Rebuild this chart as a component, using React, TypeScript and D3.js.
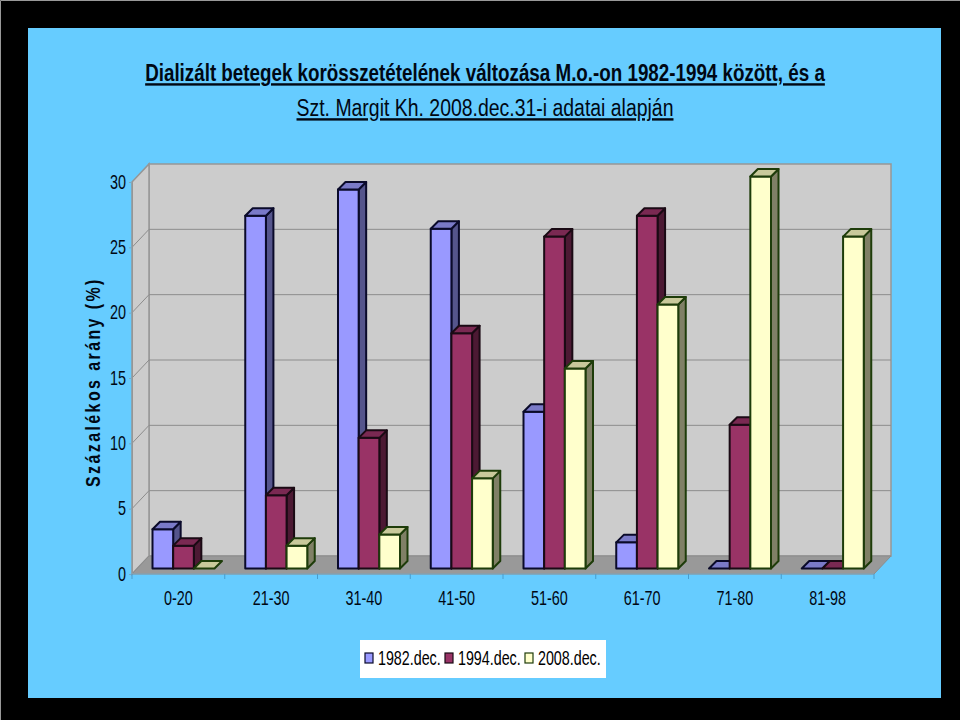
import React, { useRef, useEffect } from "react";
import * as d3 from "d3";

const titleLines = [
  "Dializált betegek korösszetételének változása M.o.-on 1982-1994 között, és a",
  "Szt. Margit Kh. 2008.dec.31-i adatai alapján",
];
const yTitle = "Százalékos arány (%)";
const categories = ["0-20", "21-30", "31-40", "41-50", "51-60", "61-70", "71-80", "81-98"];
const seriesNames = ["1982.dec.", "1994.dec.", "2008.dec."];
const values1982 = [3, 27, 29, 26, 12, 2, 0, 0];
const values1994 = [1.75, 5.6, 10, 18, 25.4, 27, 11, 0];
const values2008 = [0, 1.75, 2.6, 6.9, 15.3, 20.2, 30, 25.4];
const yTicks = [0, 5, 10, 15, 20, 25, 30];

const fronts = ["#9999FF", "#993366", "#FFFFCC"];
const tops = ["#7A7AC8", "#7A2952", "#C9C99B"];
const sides = ["#55558C", "#4C1933", "#808066"];
const strokes = ["#0A0A2A", "#1A0A14", "#1E3C0A"];

// the original uses a narrow face, not installed here, so text gets squeezed horizontally
const font = "'Liberation Sans', Arial, sans-serif";
const tickScale = 0.72;

const App: React.FC = () => {
  const ref = useRef<SVGSVGElement | null>(null);

  useEffect(() => {
    if (!ref.current) return;
    const svg = d3.select(ref.current);
    svg.selectAll("*").remove();

    // page frame
    svg.append("rect").attr("width", 960).attr("height", 720).attr("fill", "#000");
    svg.append("path").attr("d", "M0.5,720V0.5H960").attr("fill", "none").attr("stroke", "#999");
    svg.append("rect").attr("x", 28).attr("y", 28).attr("width", 913).attr("height", 670)
      .attr("fill", "#66CCFF");

    // title
    titleLines.forEach((line, i) => {
      svg.append("text")
        .attr("transform", `translate(485,${81 + i * 35}) scale(${i === 0 ? 0.783 : 0.81},1)`)
        .attr("text-anchor", "middle")
        .attr("font-family", font).attr("font-size", 24).attr("font-weight", i === 0 ? 700 : 400)
        .attr("text-decoration", "underline")
        .attr("fill", "#000814")
        .text(line);
    });

    // scales, front plane of the 3D box
    const x = d3.scaleBand<string>().domain(categories).range([132, 874]);
    const y = d3.scaleLinear().domain([0, 30]).range([574, 182]);
    const dx = 17, dy = -18; // box depth
    const barBase = y(0) - 5.5;

    const g = svg.append("g");

    // back wall, side wall, floor
    const backLeft = 132 + dx, backRight = 874 + dx;
    g.append("path")
      .attr("d", `M${backLeft},${y(30) + dy}H${backRight}V${y(0) + dy}H${backLeft}Z`)
      .attr("fill", "#CCCCCC").attr("stroke", "#969696").attr("stroke-width", 1.5);
    g.append("path")
      .attr("d", `M132,${y(30)}L${backLeft},${y(30) + dy}V${y(0) + dy}L132,${y(0)}Z`)
      .attr("fill", "#CCCCCC").attr("stroke", "#969696").attr("stroke-width", 1.5);
    g.append("path")
      .attr("d", `M132,${y(0)}L${backLeft},${y(0) + dy}H${backRight}L874,${y(0)}Z`)
      .attr("fill", "#999999").attr("stroke", "#8C8C8C");

    // gridlines
    g.selectAll("path.grid")
      .data(yTicks.slice(1, -1))
      .join("path")
      .attr("class", "grid")
      .attr("d", d => `M132,${y(d)}L${backLeft},${y(d) + dy}H${backRight}`)
      .attr("fill", "none").attr("stroke", "#8C8C8C").attr("stroke-width", 1);

    // axes
    const yAxis = svg.append("g")
      .attr("transform", "translate(132,0)")
      .call(d3.axisLeft(y).tickValues(yTicks).tickSize(3).tickPadding(3));
    const xAxis = svg.append("g")
      .attr("transform", `translate(0,${y(0)})`)
      .call(d3.axisBottom(x).tickSize(0).tickPadding(16.5));
    xAxis.selectAll(".tick line").remove();
    // category separators sit between the bands
    xAxis.selectAll("line.sep")
      .data(d3.range(categories.length + 1))
      .join("line")
      .attr("class", "sep")
      .attr("x1", i => 132 + i * x.step()).attr("x2", i => 132 + i * x.step())
      .attr("y1", 0).attr("y2", 5)
      .attr("stroke", "#4A9CCC");
    [yAxis, xAxis].forEach(a => {
      a.selectAll("text")
        .attr("font-family", font).attr("font-size", 20).attr("fill", "#000814");
    });
    yAxis.select(".domain").attr("stroke", "#969696");
    xAxis.select(".domain").attr("d", "M132,0H874").attr("stroke", "#7FA8C0");
    yAxis.selectAll(".tick line").attr("stroke", "#7FA8C0");
    yAxis.selectAll("text")
      .attr("x", 0).attr("dy", "0.3em")
      .attr("transform", `translate(-6,0) scale(${tickScale},1)`);
    xAxis.selectAll("text").attr("transform", `scale(${tickScale},1)`);

    // bars
    const inner = d3.scaleBand<number>().domain([0, 1, 2]).range([20, 82]);
    const bw = inner.bandwidth();
    const d = 7.5; // bar depth
    const allValues = [values1982, values1994, values2008];

    categories.forEach((cat, c) => {
      allValues.forEach((vals, s) => {
        const v = vals[c];
        const bx = (x(cat) as number) + (inner(s) as number) + 0.5;
        const top = barBase - (y(0) - y(v));
        const bar = g.append("g")
          .attr("stroke", strokes[s]).attr("stroke-width", 2).attr("stroke-linejoin", "round");
        if (v > 0) {
          bar.append("path")
            .attr("d", `M${bx + bw},${top}L${bx + bw + d},${top - d}V${barBase - d}L${bx + bw},${barBase}Z`)
            .attr("fill", sides[s]);
          bar.append("rect")
            .attr("x", bx).attr("y", top).attr("width", bw).attr("height", barBase - top)
            .attr("fill", fronts[s]);
        }
        bar.append("path")
          .attr("d", `M${bx},${top}L${bx + d},${top - d}H${bx + bw + d}L${bx + bw},${top}Z`)
          .attr("fill", tops[s]);
      });
    });

    // y title
    svg.append("text")
      .attr("transform", "translate(100,487) rotate(-90) scale(0.8,1)")
      .attr("font-family", font)
      .attr("font-size", 20).attr("font-weight", 700)
      .attr("letter-spacing", 3)
      .attr("fill", "#000814")
      .text(yTitle);

    // legend
    svg.append("rect").attr("x", 360).attr("y", 640).attr("width", 246).attr("height", 38)
      .attr("fill", "#fff");
    const legendX = d3.scalePoint<string>().domain(seriesNames).range([365, 525]);
    seriesNames.forEach((name, s) => {
      const lx = legendX(name) as number;
      svg.append("rect")
        .attr("x", lx).attr("y", 653).attr("width", 8).attr("height", 10)
        .attr("fill", fronts[s]).attr("stroke", strokes[s]).attr("stroke-width", 1.2);
      svg.append("text")
        .attr("transform", `translate(${lx + 13},665) scale(0.68,1)`)
        .attr("font-family", font).attr("font-size", 21)
        .attr("fill", "#000")
        .text(name);
    });
  }, []);

  return (
    <svg
      ref={ref}
      width={960}
      height={720}
      style={{ position: "absolute", left: 0, top: 0, display: "block" }}
    />
  );
};

export default App;
